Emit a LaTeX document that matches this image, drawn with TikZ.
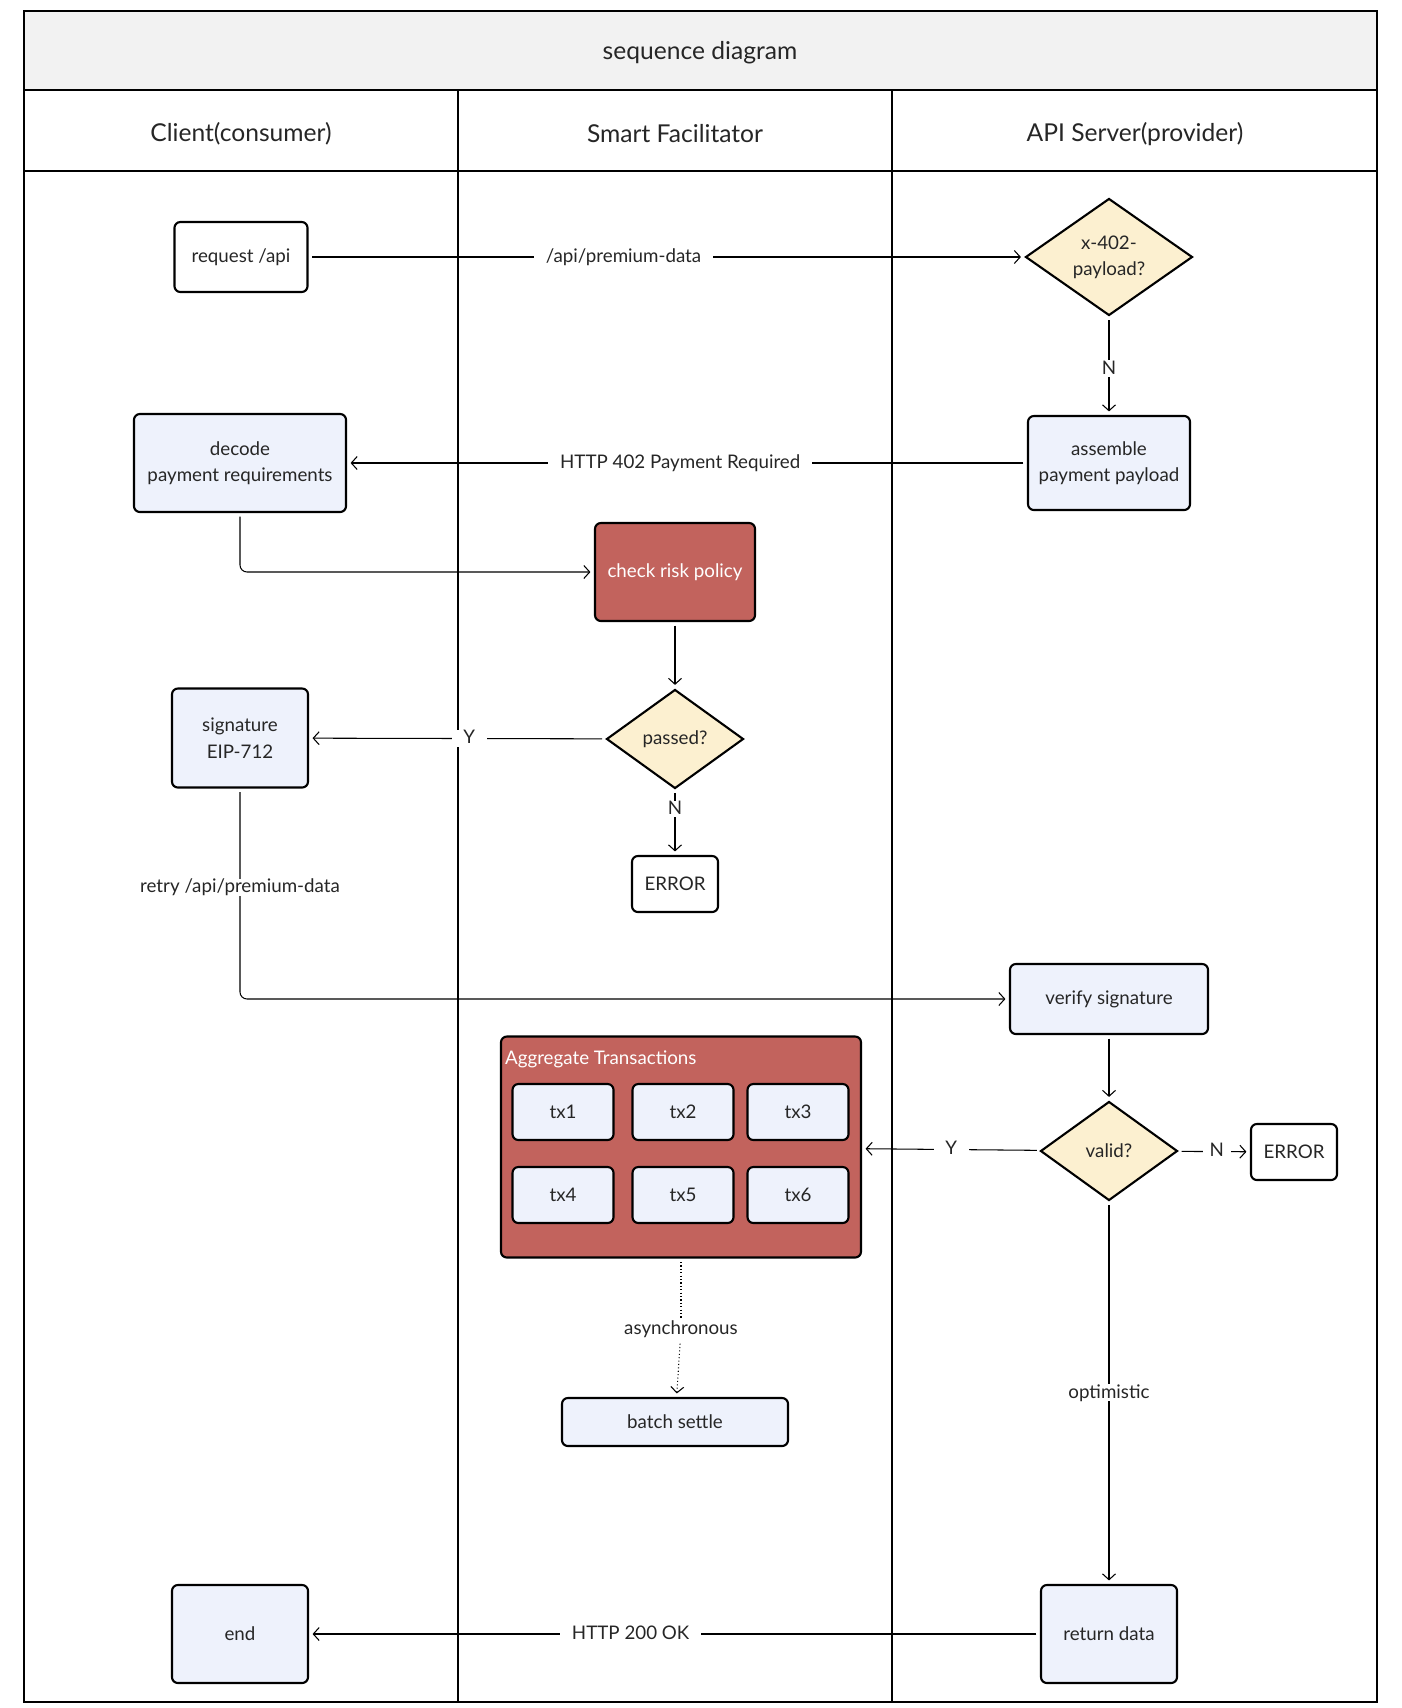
\documentclass[tikz,border=0pt]{standalone}
\usepackage{fontspec}
\setmainfont{Lato}
\usetikzlibrary{positioning,calc,shapes.geometric,arrows.meta}
\definecolor{boxblue}{HTML}{EEF2FC}
\definecolor{riskred}{HTML}{C2635D}
\definecolor{decide}{HTML}{FCF0D0}
\definecolor{band}{HTML}{F2F2F2}
\definecolor{ink}{HTML}{262626}

\begin{document}
\begin{tikzpicture}[x=0.03cm,y=-0.03cm,font=\fontsize{16}{22.5}\selectfont,text=ink,
  stepbox/.style={draw=black,line width=1.8pt,rounded corners=5pt,fill=boxblue,align=center,inner sep=0pt},
  plainbox/.style={stepbox,fill=white},
  riskbox/.style={stepbox,fill=riskred,text=white},
  choice/.style={diamond,draw=black,line width=1.8pt,fill=decide,align=center,inner sep=0pt},
  conn/.style={line width=0.9pt,-{Straight Barb[length=5pt,width=11pt]},shorten >=3pt,shorten <=3pt},
  lbl/.style={fill=white,inner xsep=10pt,inner ysep=2pt,text height=1.9ex,text depth=0.1ex},
  headtext/.style={font=\fontsize{21}{25}\selectfont},
  lane/.style={line width=0.9pt}]
\useasboundingbox (0,0) rectangle (1402,1708);
% lanes
\draw[lane,fill=band] (24,11) rectangle (1377,90);
\draw[lane] (24,90) rectangle (1377,1702);
\draw[lane] (24,171) -- (1377,171);
\draw[lane] (458,90) -- (458,1702);
\draw[lane] (892,90) -- (892,1702);
\node[headtext] (title) at (700,53) {sequence diagram};
\node[headtext] (hclient) at (241,134) {Client(consumer)};
\node[headtext] (hfacil) at (675,134) {Smart Facilitator};
\node[headtext] (hserver) at (1135,134) {API Server(provider)};

% client lane
\node[plainbox,minimum width=3.99cm,minimum height=2.1cm] (request) at (241,257) {request /api};
\node[stepbox,minimum width=6.36cm,minimum height=2.94cm] (decode) at (240,463) {decode\\payment requirements};
\node[stepbox,minimum width=4.08cm,minimum height=2.97cm] (signature) at (240,738) {signature\\EIP-712};
\node[stepbox,minimum width=4.08cm,minimum height=2.94cm] (end) at (240,1634) {end};

% facilitator lane
\node[riskbox,minimum width=4.8cm,minimum height=2.94cm] (risk) at (675,572) {check risk policy};
\node[choice,minimum width=4.11cm,minimum height=2.97cm] (passed) at (675,739) {passed?};
\node[plainbox,minimum width=2.58cm,minimum height=1.68cm] (error1) at (675,884) {ERROR};
\node[riskbox,minimum width=10.8cm,minimum height=6.63cm] (aggregate) at (681,1147) {};
\node[anchor=west,text=white] (aggtitle) at (501,1059) {Aggregate Transactions};
\node[stepbox,minimum width=3.03cm,minimum height=1.68cm] (tx1) at (563,1112) {tx1};
\node[stepbox,minimum width=3.03cm,minimum height=1.68cm] (tx2) at (683,1112) {tx2};
\node[stepbox,minimum width=3.03cm,minimum height=1.68cm] (tx3) at (798,1112) {tx3};
\node[stepbox,minimum width=3.03cm,minimum height=1.68cm] (tx4) at (563,1195) {tx4};
\node[stepbox,minimum width=3.03cm,minimum height=1.68cm] (tx5) at (683,1195) {tx5};
\node[stepbox,minimum width=3.03cm,minimum height=1.68cm] (tx6) at (798,1195) {tx6};
\node[inner sep=2pt] (async) at (681,1329) {asynchronous};
\node[stepbox,minimum width=6.78cm,minimum height=1.44cm] (batch) at (675,1422) {batch settle};

% server lane
\node[choice,minimum width=5.01cm,minimum height=3.51cm] (payload) at (1109,257) {x-402-\\payload?};
\node[stepbox,minimum width=4.86cm,minimum height=2.82cm] (assemble) at (1109,463) {assemble\\payment payload};
\node[stepbox,minimum width=5.94cm,minimum height=2.1cm] (verify) at (1109,999) {verify signature};
\node[choice,minimum width=4.11cm,minimum height=2.97cm] (valid) at (1109,1151) {valid?};
\node[plainbox,minimum width=2.58cm,minimum height=1.68cm] (error2) at (1294,1152) {ERROR};
\node[stepbox,minimum width=4.08cm,minimum height=2.94cm] (return) at (1109,1634) {return data};

% connectors
\draw[conn] (request) -- node[lbl,pos=0.44] {/api/premium-data} (payload);
\draw[conn] (payload) -- node[lbl,pos=0.53] {N} (assemble);
\draw[conn] (assemble) -- node[lbl,pos=0.51] {HTTP 402 Payment Required} (decode);
\draw[conn,rounded corners=6pt] (decode.south) |- (risk.west);
\draw[conn] (risk) -- (passed);
\draw[conn] (passed) -- node[lbl,pos=0.46] {Y} (signature);
\draw[conn] (passed) -- node[lbl,pos=0.3] {N} (error1);
\draw[conn,rounded corners=6pt] (signature.south) -- node[lbl,pos=0.47] {retry /api/premium-data} (signature.south |- verify.west) -- (verify.west);
\draw[conn] (verify) -- (valid);
\draw[conn] (valid) -- node[lbl] {Y} (aggregate);
\draw[conn] (valid) -- node[lbl,inner xsep=6pt,pos=0.54] {N} (error2);
\draw[line width=0.9pt,dotted,shorten <=3pt] (aggregate) -- (async);
\draw[conn,dotted] (async) -- (batch);
\draw[conn] (valid) -- node[lbl] {optimistic} (return);
\draw[conn] (return) -- node[lbl,pos=0.56] {HTTP 200 OK} (end);
\end{tikzpicture}
\end{document}
